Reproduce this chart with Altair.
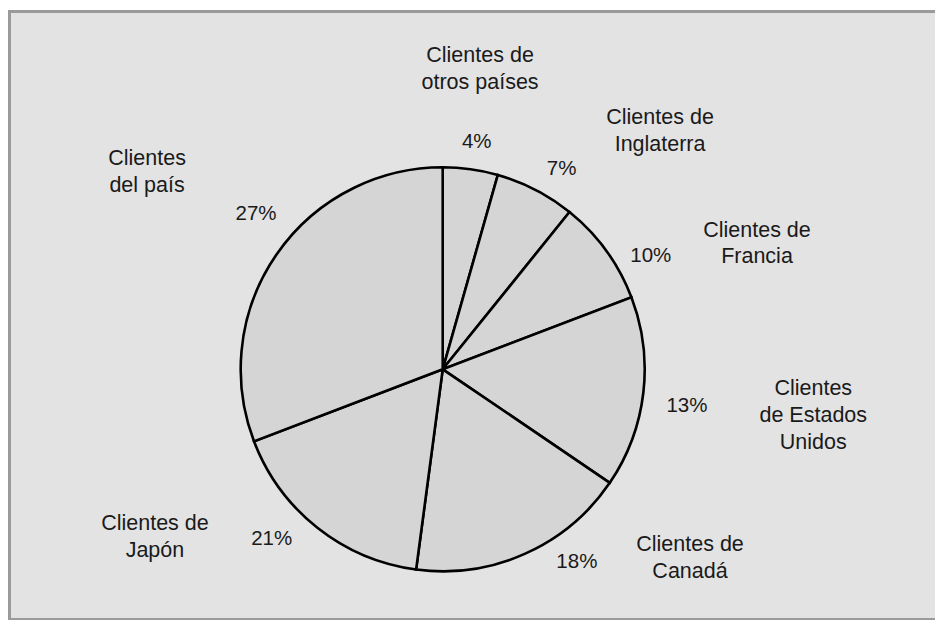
import math
import altair as alt
import pandas as pd

# ---- data ----
categories = [
    "Clientes de\notros países",
    "Clientes de\nInglaterra",
    "Clientes de\nFrancia",
    "Clientes\nde Estados\nUnidos",
    "Clientes de\nCanadá",
    "Clientes de\nJapón",
    "Clientes\ndel país",
]
pct_labels = ["4%", "7%", "10%", "13%", "18%", "21%", "27%"]
# slice sizes as drawn in the picture (share of the full circle, %)
slice_shares = [4.4, 6.4, 8.4, 15.3, 17.6, 17.1, 30.8]

# ---- label layout (polar placement around the pie centre) ----
pct_angle_deg = [8.5, 30.7, 61.4, 98.5, 145.1, 225.2, 309.7]
pct_radius = [230, 233, 237, 247, 234.5, 241, 242.6]
# anchor = first line of each multi-line label
cat_angle_deg = [6.8, 40.9, 66.2, 93.1, 125.4, 241.7, 305.4]
cat_radius = [315.5, 332, 343.5, 371.1, 303.4, 326.8, 362.7]

W = 925.5
H = 608
CX, CY = 433.2, 357.8
R = 202
FRAME = "#9a9a9a"

df = pd.DataFrame({
    "idx": list(range(len(categories))),
    "category": categories,
    "pct": pct_labels,
    "share": slice_shares,
    "pct_theta": [math.radians(a) for a in pct_angle_deg],
    "pct_r": pct_radius,
    "cat_theta": [math.radians(a) for a in cat_angle_deg],
    "cat_r": cat_radius,
})

base = alt.Chart(df)

pie = base.mark_arc(
    radius=R, fill="#d5d5d5", stroke="#000000", strokeWidth=2.6
).encode(
    theta=alt.Theta("share:Q", stack=True),
    order=alt.Order("idx:Q"),
    x=alt.value(CX),
    y=alt.value(CY),
)

pct_text = base.mark_text(
    font="Liberation Sans", fontSize=20.5, color="#1a1a1a",
    align="center", baseline="middle",
).encode(
    theta=alt.Theta("pct_theta:Q", scale=None),
    radius=alt.Radius("pct_r:Q", scale=None),
    text="pct:N",
    x=alt.value(CX),
    y=alt.value(CY),
)

cat_text = base.mark_text(
    font="Liberation Sans", fontSize=21.5, color="#1a1a1a",
    align="center", baseline="middle", lineBreak="\n", lineHeight=26.7,
).encode(
    theta=alt.Theta("cat_theta:Q", scale=None),
    radius=alt.Radius("cat_r:Q", scale=None),
    text="category:N",
    x=alt.value(CX),
    y=alt.value(CY),
)

# frame: top, left and bottom edges (the right edge lies outside the picture)
frame_top = alt.Chart(df).mark_rule(color=FRAME, strokeWidth=3).encode(
    x=alt.value(-1.5), x2=alt.value(W + 5), y=alt.value(0)
)
frame_left = alt.Chart(df).mark_rule(color=FRAME, strokeWidth=3).encode(
    x=alt.value(0), y=alt.value(-1.5), y2=alt.value(H + 1.5)
)
frame_bottom = alt.Chart(df).mark_rule(color=FRAME, strokeWidth=3).encode(
    x=alt.value(-1.5), x2=alt.value(W + 5), y=alt.value(H)
)

chart = alt.layer(
    frame_top, frame_left, frame_bottom, pie, pct_text, cat_text
).resolve_scale(
    theta="independent", radius="independent"
).properties(
    width=W, height=H,
    padding={"left": 1.5, "top": 3.5, "right": 0, "bottom": 0},
    autosize=alt.AutoSizeParams(type="none"),
    background="#ffffff",
).configure_view(
    fill="#e3e3e3",
    stroke=None,
)

chart.save("out.html", embed_options={"renderer": "svg", "actions": False})
